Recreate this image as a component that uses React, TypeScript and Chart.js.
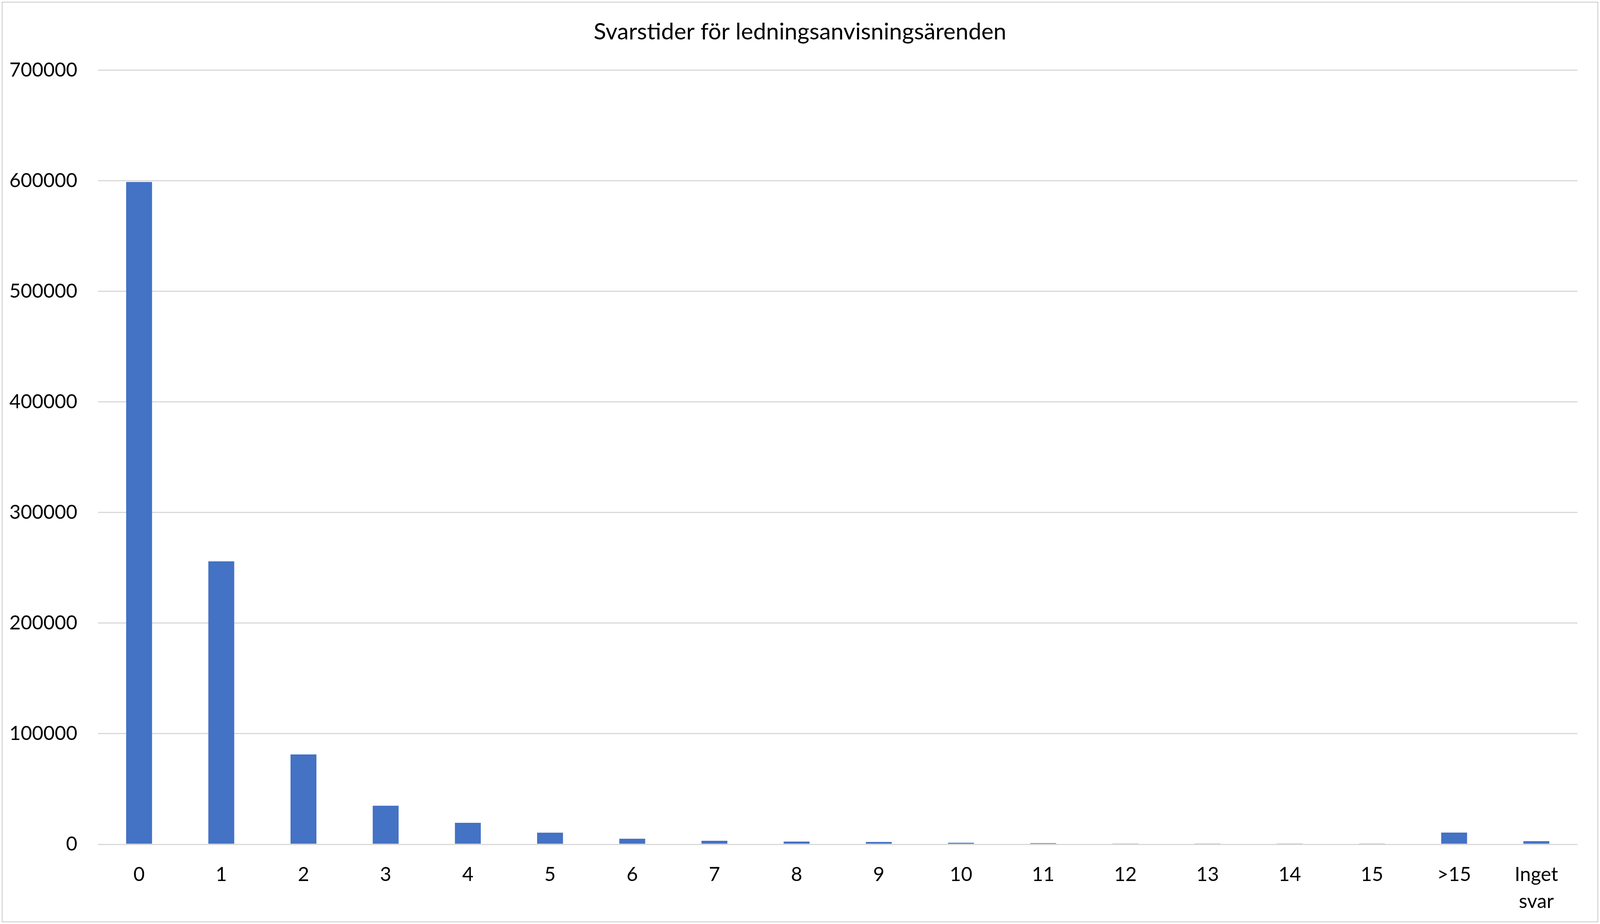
import React, { useEffect, useRef } from "react";
import { Chart, registerables } from "chart.js";

Chart.register(...registerables);

const chartTitle = "Svarstider för ledningsanvisningsärenden";

// response time in days (x axis)
const days: (string | string[])[] = [
  "0", "1", "2", "3", "4", "5", "6", "7", "8", "9",
  "10", "11", "12", "13", "14", "15", ">15", ["Inget", "svar"],
];

// number of cases per response time
const caseCounts = [
  599000, 255900, 81300, 34900, 19400, 10500, 5000, 3200, 2500,
  2100, 1400, 1100, 700, 350, 350, 350, 10600, 2800,
];

const yMin = 0;
const yMax = 700000;
const yStep = 100000;

// the design was measured on a 4115px wide picture
const REF_W = 4115;
const FONT = "Lato, 'Open Sans', sans-serif";

const App: React.FC = () => {
  const chartRef = useRef<HTMLCanvasElement>(null);
  const W = Math.min(window.innerWidth || REF_W, REF_W);
  const H = window.innerHeight || 2365;
  const sx = W / REF_W;

  useEffect(() => {
    document.body.style.margin = "0";
    const ctx = chartRef.current!;
    let barChart: Chart<"bar", number[], string | string[]>;

    if (ctx) {
      barChart = new Chart(ctx, {
        type: "bar",
        data: {
          labels: days,
          datasets: [
            {
              label: "Ärenden",
              data: caseCounts,
              backgroundColor: "#4472C4",
              borderWidth: 0,
              categoryPercentage: 1,
              barPercentage: 0.315,
            },
          ],
        },
        options: {
          animation: false,
          responsive: false,
          devicePixelRatio: 1,
          layout: { padding: 0 },
          plugins: {
            legend: { display: false },
            tooltip: { enabled: false },
            title: {
              display: true,
              text: chartTitle,
              color: "#000",
              font: { family: FONT, size: 59, weight: "normal", lineHeight: 1.2 },
              padding: { top: 40, bottom: 62 },
            },
          },
          scales: {
            x: {
              grid: { display: false },
              border: { display: false },
              ticks: {
                color: "#000",
                font: { family: FONT, size: 50, lineHeight: 1.38 },
                padding: 35,
                maxRotation: 0,
                autoSkip: false,
              },
              afterFit: (scale) => {
                scale.height = 197;
              },
            },
            y: {
              min: yMin,
              max: yMax,
              grid: { color: "#d9d9d9", lineWidth: 3, drawTicks: false },
              border: { display: false },
              ticks: {
                stepSize: yStep,
                color: "#000",
                font: { family: FONT, size: 50 },
                padding: 53 * sx,
                callback: (v) => String(v),
              },
              afterFit: (scale) => {
                scale.width = 245 * sx;
              },
            },
            // empty right axis, only keeps the white margin right of the plot
            spacer: {
              type: "linear",
              position: "right",
              grid: { display: false },
              border: { display: false },
              ticks: { display: false },
              afterFit: (scale) => {
                scale.width = 51 * sx;
              },
            },
          },
        },
      });
    }

    return () => {
      barChart.destroy();
    };
  }, []);

  return (
    <div
      style={{
        position: "absolute",
        left: 0,
        top: 0,
        width: W,
        height: H,
        padding: 4,
        boxSizing: "border-box",
        background: "#fff",
      }}
    >
      <div style={{ width: "100%", height: "100%", border: "3px solid #d9d9d9", boxSizing: "border-box" }}>
        <canvas ref={chartRef} width={W - 14} height={H - 14} style={{ display: "block" }}></canvas>
      </div>
    </div>
  );
};

export default App;
